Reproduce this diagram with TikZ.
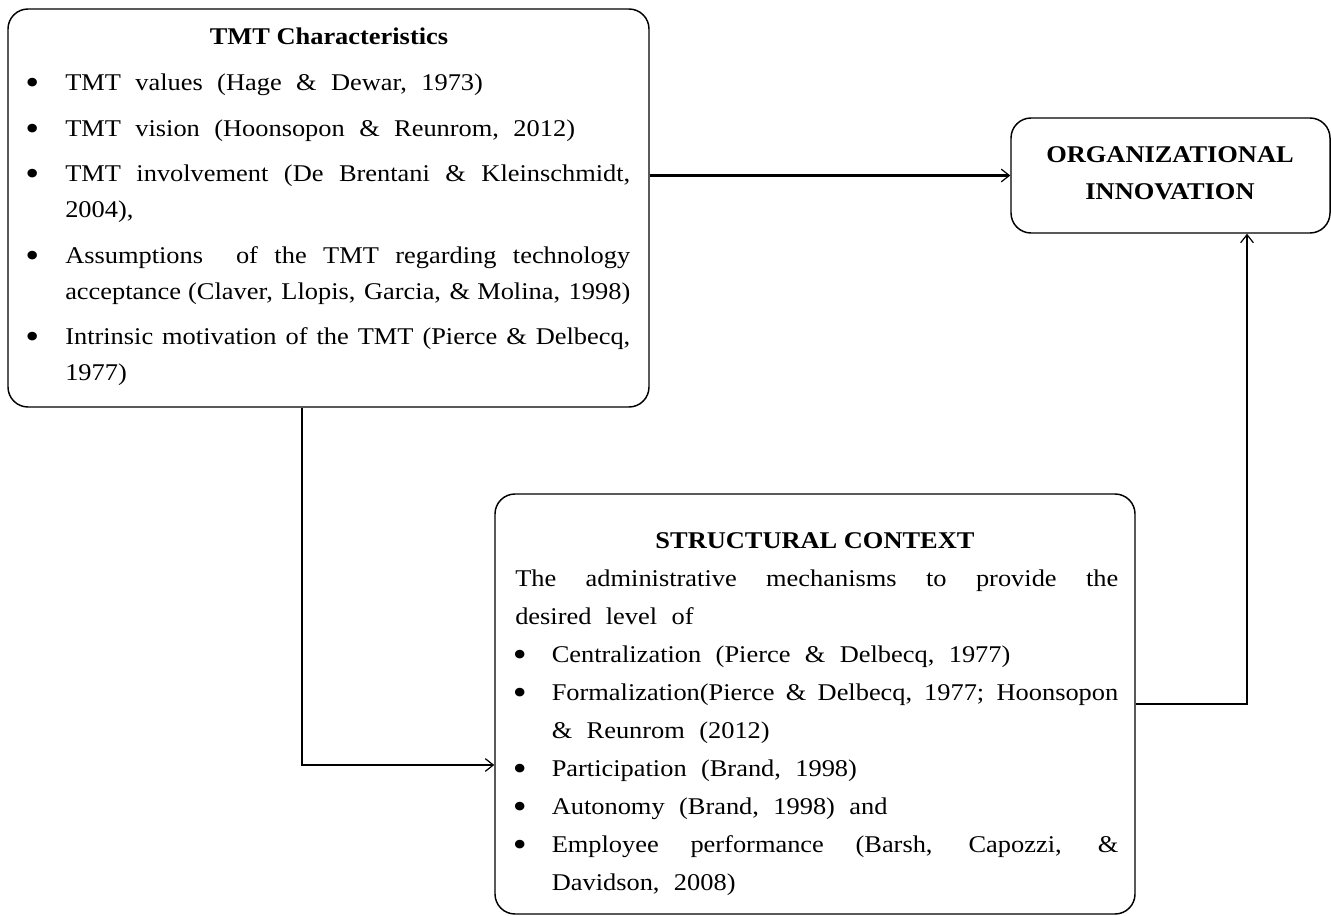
\documentclass[tikz,border=0pt]{standalone}
\usepackage{fontspec}
\setmainfont[FakeStretch=1.1]{Liberation Serif}
\usetikzlibrary{arrows.meta,fit}
\newdimen\px \px=0.75pt
\newcommand\bul[1]{\leavevmode\llap{\raisebox{-3pt}{\fontsize{27}{27}\selectfont\textbullet}\hspace{#1\px}}}
\newcommand\widesp{\spaceskip=0.6em plus 0.5em minus 0.45em\relax}
\begin{document}
\begin{tikzpicture}[x=0.75pt,y=-0.75pt,
  box/.style={draw, line width=1.1pt, rounded corners=15pt, inner sep=0pt},
  conn/.style={line width=1.6pt, -{Straight Barb[length=6pt,width=9.5pt,line width=0.9pt]}},
  body/.style={inner sep=0pt, anchor=base west, font=\fontsize{18}{20}\selectfont},
  head/.style={inner sep=0pt, anchor=base, font=\fontsize{18}{20}\selectfont\bfseries},
  ]
\useasboundingbox (0,0) rectangle (1331,916);
% boxes
\node[box, fit={(8,9)(649,407)}] (tmt) {};
\node[box, fit={(1011,118)(1330,233)}] (org) {};
\node[box, fit={(495,494)(1135,914)}] (sc) {};
% TMT box text
\node[head] (tmttitle) at (329,45) {TMT Characteristics};
\node[body] (tmtlist) at (65,91) {\parbox[t]{565\px}{\setlength\baselineskip{36\px}\setlength\parskip{9.5\px}\widesp
\bul{26}TMT values (Hage \& Dewar, 1973)\par
\bul{26}TMT vision (Hoonsopon \& Reunrom, 2012)\par
\bul{26}TMT involvement (De Brentani \& Kleinschmidt,\linebreak 2004),\par
{\parfillskip=0pt \bul{26}Assumptions\ \ of the TMT regarding technology\linebreak acceptance (Claver, Llopis, Garcia, \& Molina, 1998)\par}
\bul{26}Intrinsic motivation of the TMT (Pierce \& Delbecq,\linebreak 1977)}};
% organizational innovation
\node[head] (orgtext) at (1170,163) {\parbox[t]{300\px}{\centering\setlength\baselineskip{37\px}ORGANIZATIONAL\\INNOVATION}};
% structural context
\node[head] (sctitle) at (815,548) {STRUCTURAL CONTEXT};
\node[body] (scbody) at (515,586) {\parbox[t]{603\px}{\setlength\baselineskip{38\px}\widesp
The administrative mechanisms to provide the\linebreak desired level of\par
\leftskip=36.5\px
\bul{25}Centralization (Pierce \& Delbecq, 1977)\par
\bul{25}Formalization(Pierce \& Delbecq, 1977; Hoonsopon\linebreak \& Reunrom (2012)\par
\bul{25}Participation (Brand, 1998)\par
\bul{25}Autonomy (Brand, 1998) and\par
\bul{25}Employee performance (Barsh, Capozzi, \&\linebreak Davidson, 2008)}};
% connectors
\coordinate (c1) at (302,765);
\coordinate (c2) at (1247,704);
\draw[conn] (tmt.east |- org.west) -- (org.west);
\draw[conn] (tmt.south -| c1) -- (c1) -- (c1 -| sc.west);
\draw[conn] (sc.east) -- (c2) -- (c2 |- org.south);
\end{tikzpicture}
\end{document}
